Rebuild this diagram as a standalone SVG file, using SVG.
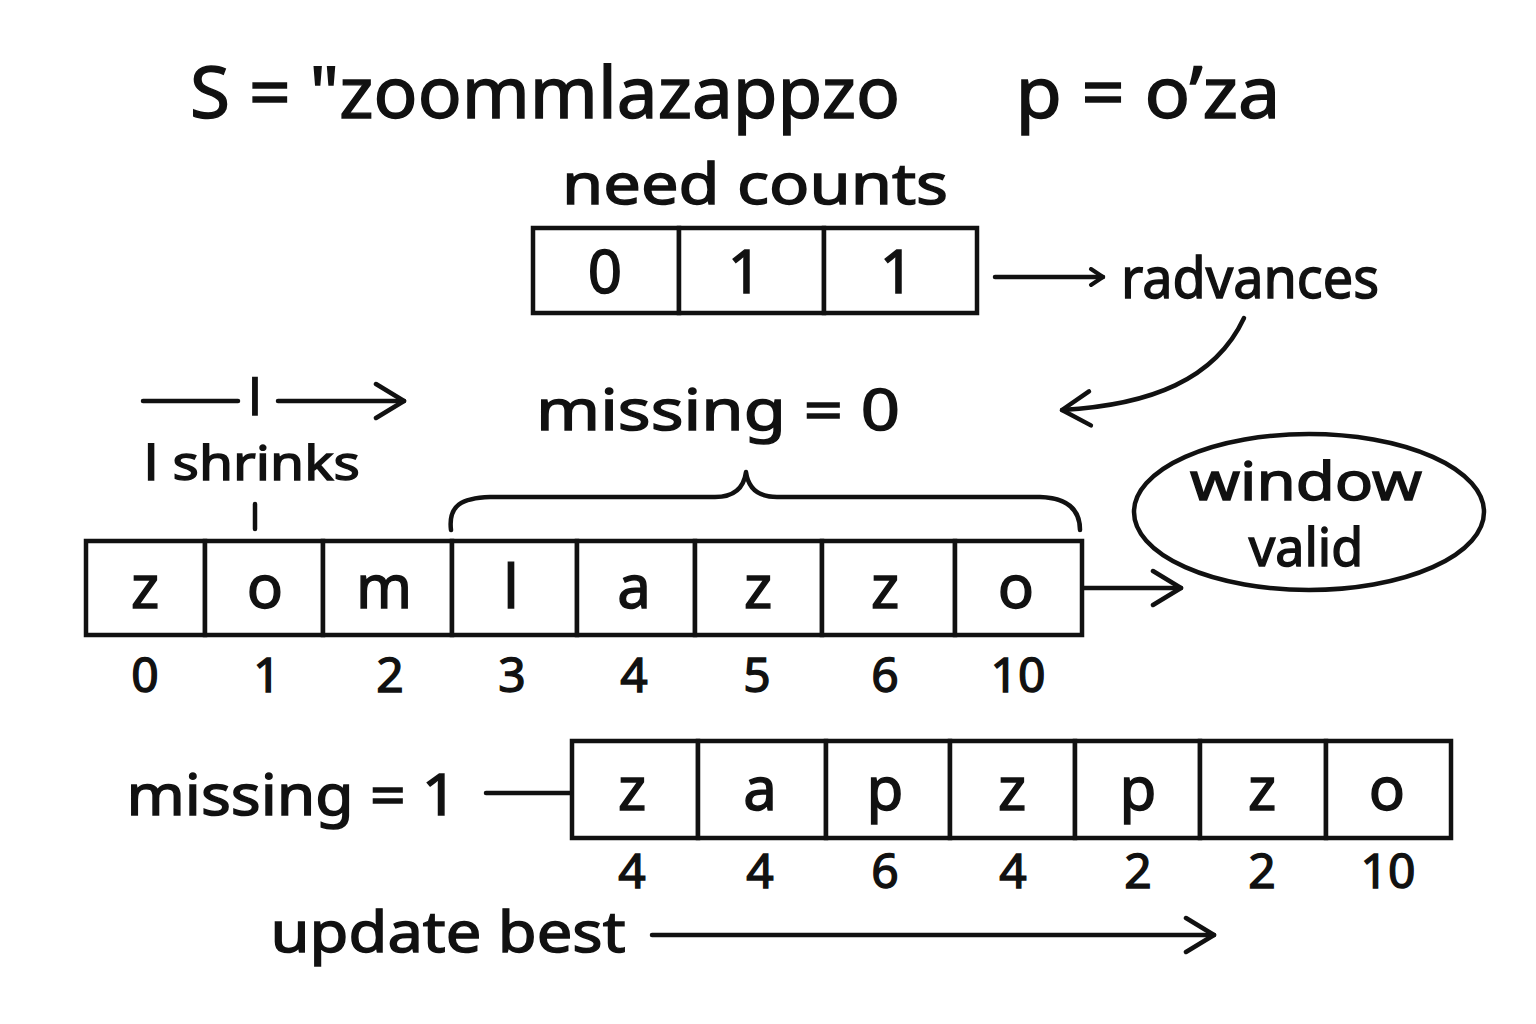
<svg xmlns="http://www.w3.org/2000/svg" width="1536" height="1024" viewBox="0 0 1536 1024">
<defs>
<style>
text{font-family:"Noto Sans","DejaVu Sans",sans-serif;fill:#111;stroke:#111;stroke-width:1.4;text-anchor:middle}
.t{font-size:60px}
.big{font-size:72px}
.lbl{font-size:56px}
.idx{font-size:48px}
.cell{fill:#fff;stroke:#111;stroke-width:4.5}
.ln{fill:none;stroke:#111;stroke-width:4.5;stroke-linecap:round;stroke-linejoin:round}
</style>
<marker id="ah" viewBox="0 0 20 20" refX="17" refY="10" markerWidth="20" markerHeight="20" markerUnits="userSpaceOnUse" orient="auto">
<path d="M5,2 L17,10 L5,18" fill="none" stroke="#111" stroke-width="4" stroke-linecap="round" stroke-linejoin="round"/>
</marker>
<marker id="ah2" viewBox="0 0 40 40" refX="34" refY="20" markerWidth="40" markerHeight="40" markerUnits="userSpaceOnUse" orient="auto">
<path d="M6,3 L34,20 L6,37" fill="none" stroke="#111" stroke-width="4.5" stroke-linecap="round" stroke-linejoin="round"/>
</marker>
</defs>
<rect width="1536" height="1024" fill="#fff"/>

<g id="title">
<text class="big" x="545" y="118" textLength="710" lengthAdjust="spacingAndGlyphs">S = "zoommlazappzo</text>
<text class="big" x="1148" y="118" textLength="265" lengthAdjust="spacingAndGlyphs">p = o’za</text>
</g>

<g id="need-counts">
<text class="lbl" x="755" y="204" textLength="386" lengthAdjust="spacingAndGlyphs">need counts</text>
<rect class="cell" x="533" y="228" width="146" height="85"/>
<rect class="cell" x="679" y="228" width="145" height="85"/>
<rect class="cell" x="824" y="228" width="153" height="85"/>
<text class="t" x="605" y="293">0</text>
<text class="t" x="745" y="293">1</text>
<text class="t" x="897" y="293">1</text>
</g>

<g id="radvances">
<text class="lbl" x="1250" y="298" textLength="258" lengthAdjust="spacingAndGlyphs">radvances</text>
</g>

<g id="missing0">
<text class="lbl" x="718" y="430" textLength="364" lengthAdjust="spacingAndGlyphs">missing = 0</text>
</g>

<g id="l-pointer">
<text style="font-size:50px" x="255" y="415">l</text>
<text style="font-size:47px" x="252" y="480" textLength="216" lengthAdjust="spacingAndGlyphs">l shrinks</text>
</g>

<g id="window-valid">
<ellipse class="ln" cx="1309" cy="512" rx="175" ry="78"/>
<text style="font-size:52px" x="1306" y="500" textLength="232" lengthAdjust="spacingAndGlyphs">window</text>
<text style="font-size:52px" x="1306" y="566">valid</text>
</g>

<g id="array-main">
<rect class="cell" x="86" y="541" width="119" height="94"/>
<rect class="cell" x="205" y="541" width="118" height="94"/>
<rect class="cell" x="323" y="541" width="129" height="94"/>
<rect class="cell" x="452" y="541" width="125" height="94"/>
<rect class="cell" x="577" y="541" width="118" height="94"/>
<rect class="cell" x="695" y="541" width="127" height="94"/>
<rect class="cell" x="822" y="541" width="133" height="94"/>
<rect class="cell" x="955" y="541" width="127" height="94"/>
<text class="t" x="145" y="608">z</text>
<text class="t" x="265" y="608">o</text>
<text class="t" x="384" y="608">m</text>
<text class="t" x="511" y="608">l</text>
<text class="t" x="634" y="608">a</text>
<text class="t" x="758" y="608">z</text>
<text class="t" x="885" y="608">z</text>
<text class="t" x="1016" y="608">o</text>
<text class="idx" x="145" y="692">0</text>
<text class="idx" x="267" y="692">1</text>
<text class="idx" x="390" y="692">2</text>
<text class="idx" x="512" y="692">3</text>
<text class="idx" x="634" y="692">4</text>
<text class="idx" x="757" y="692">5</text>
<text class="idx" x="885" y="692">6</text>
<text class="idx" x="1018" y="692">10</text>
</g>

<g id="missing1">
<text class="lbl" x="292" y="815" textLength="331" lengthAdjust="spacingAndGlyphs">missing = 1</text>
</g>

<g id="array-bottom">
<rect class="cell" x="572" y="741" width="126" height="97"/>
<rect class="cell" x="698" y="741" width="128" height="97"/>
<rect class="cell" x="826" y="741" width="124" height="97"/>
<rect class="cell" x="950" y="741" width="125" height="97"/>
<rect class="cell" x="1075" y="741" width="125" height="97"/>
<rect class="cell" x="1200" y="741" width="126" height="97"/>
<rect class="cell" x="1326" y="741" width="125" height="97"/>
<text class="t" x="632" y="810">z</text>
<text class="t" x="760" y="810">a</text>
<text class="t" x="885" y="810">p</text>
<text class="t" x="1012" y="810">z</text>
<text class="t" x="1138" y="810">p</text>
<text class="t" x="1262" y="810">z</text>
<text class="t" x="1387" y="810">o</text>
<text class="idx" x="632" y="888">4</text>
<text class="idx" x="760" y="888">4</text>
<text class="idx" x="885" y="888">6</text>
<text class="idx" x="1013" y="888">4</text>
<text class="idx" x="1138" y="888">2</text>
<text class="idx" x="1262" y="888">2</text>
<text class="idx" x="1388" y="888">10</text>
</g>

<g id="update-best">
<text class="lbl" x="448" y="952" textLength="355" lengthAdjust="spacingAndGlyphs">update best</text>
</g>

<g id="connectors">
<path class="ln" d="M995,277 L1103,277" marker-end="url(#ah)"/>
<path class="ln" d="M1244,318 C1215,380 1150,405 1062,410" marker-end="url(#ah2)"/>
<path class="ln" d="M143,401 L238,401"/>
<path class="ln" d="M278,401 L404,401" marker-end="url(#ah2)"/>
<path class="ln" d="M255,504 L255,529"/>
<path class="ln" d="M451,530 C448,505 462,498 490,497 L715,497 C735,497 744,487 746,472 C748,487 757,497 777,497 L1040,497 C1068,498 1080,510 1080,530"/>
<path class="ln" d="M1084,588 L1181,588" marker-end="url(#ah2)"/>
<path class="ln" d="M486,793 L570,793"/>
<path class="ln" d="M652,935 L1214,935" marker-end="url(#ah2)"/>
</g>
</svg>
